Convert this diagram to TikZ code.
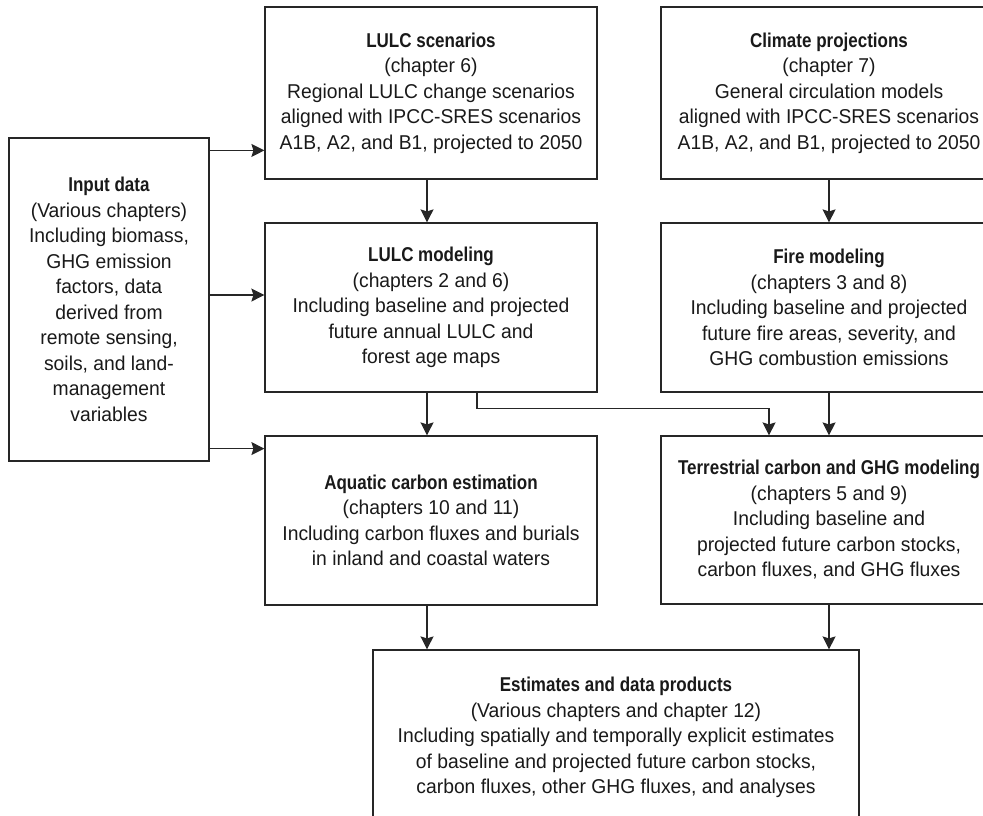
\documentclass[tikz,border=0pt]{standalone}
\usepackage{fontspec}
\setmainfont{Liberation Sans}[FakeStretch=0.965, BoldFeatures={FakeStretch=0.85}]
\usetikzlibrary{arrows.meta}

\tikzset{
  box/.style={draw=black!85, line width=0.6pt, rectangle, align=center, inner sep=0pt,
    font=\fontsize{10pt}{12.75pt}\selectfont, text=black!90},
  arr/.style={-{Stealth[length=6.5pt,width=6.5pt,inset=1pt]}, draw=black!85, line width=0.6pt},
}

\begin{document}
\begin{tikzpicture}[x=0.5pt,y=-0.5pt]
\useasboundingbox (0,0) rectangle (983,815);
\clip (0,0) rectangle (983,815);
\node[box, minimum width=100pt, minimum height=161.5pt] (inp) at (109,299.5) {\textbf{Input data}\\(Various chapters)\\Including biomass,\\GHG emission\\factors, data\\derived from\\remote sensing,\\soils, and land-\\management\\variables};
\node[box, minimum width=166pt, minimum height=86pt] (scen) at (431,93) {\textbf{LULC scenarios}\\(chapter 6)\\Regional LULC change scenarios\\aligned with IPCC-SRES scenarios\\A1B, A2, and B1, projected to 2050};
\node[box, minimum width=168pt, minimum height=86pt] (clim) at (829,93) {\textbf{Climate projections}\\(chapter 7)\\General circulation models\\aligned with IPCC-SRES scenarios\\A1B, A2, and B1, projected to 2050};
\node[box, minimum width=166pt, minimum height=84.5pt] (lulc) at (431,307.5) {\textbf{LULC modeling}\\(chapters 2 and 6)\\Including baseline and projected\\future annual LULC and\\forest age maps};
\node[box, minimum width=168pt, minimum height=84.5pt] (fire) at (829,307.5) {\textbf{Fire modeling}\\(chapters 3 and 8)\\Including baseline and projected\\future fire areas, severity, and\\GHG combustion emissions};
\node[box, minimum width=166pt, minimum height=84.5pt] (aqua) at (431,520.5) {\textbf{Aquatic carbon estimation}\\(chapters 10 and 11)\\Including carbon fluxes and burials\\in inland and coastal waters};
\node[box, minimum width=168pt, minimum height=84pt] (terr) at (829,520) {\textbf{Terrestrial carbon and GHG modeling}\\(chapters 5 and 9)\\Including baseline and\\projected future carbon stocks,\\carbon fluxes, and GHG fluxes};
\node[box, minimum width=243pt, minimum height=87.5pt] (est) at (616,737.5) {\textbf{Estimates and data products}\\(Various chapters and chapter 12)\\Including spatially and temporally explicit estimates\\of baseline and projected future carbon stocks,\\carbon fluxes, other GHG fluxes, and analyses};

\coordinate (intop) at ([yshift=-6.5pt]inp.north east);
\coordinate (inmid) at ([yshift=2.25pt]inp.east);
\coordinate (inbot) at ([yshift=6.5pt]inp.south east);
\draw[arr] (intop) -- (intop -| scen.west);
\draw[arr] (inmid) -- (inmid -| lulc.west);
\draw[arr] (inbot) -- (inbot -| aqua.west);
\draw[arr] ([xshift=-2pt]scen.south) -- ([xshift=-2pt]lulc.north);
\draw[arr] (clim) -- (fire);
\draw[arr] ([xshift=-2pt]lulc.south) -- ([xshift=-2pt]aqua.north);
\draw[arr] (fire) -- (terr);
\draw[arr] ([xshift=23pt]lulc.south) -- ++(0,-8pt) -| ([xshift=-30pt]terr.north);
\draw[arr] ([xshift=-2pt]aqua.south) -- ([xshift=-2pt]aqua.south |- est.north);
\draw[arr] (terr.south) -- (terr.south |- est.north);
\end{tikzpicture}
\end{document}
